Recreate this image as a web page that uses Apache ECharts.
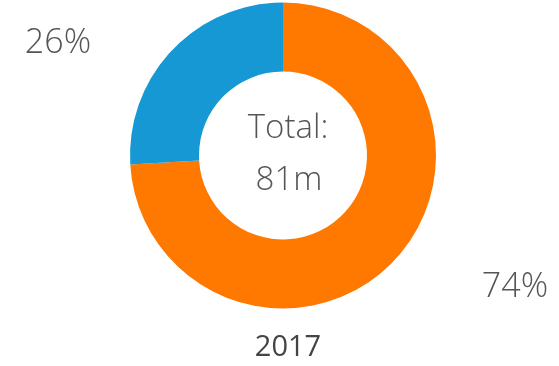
<!DOCTYPE html>
<html>
<head>
<meta charset="utf-8">
<style>
  html, body { margin: 0; padding: 0; background: #fff; }
  #chart { width: 559px; height: 366px; }
</style>
<script src="https://cdn.jsdelivr.net/npm/echarts@6/dist/echarts.min.js"></script>
</head>
<body>
<div id="chart"></div>
<script>
// Segment names and values in millions
var categories = ['Segment A', 'Segment B'];
var values = [60, 21];
var colors = ['#ff7800', '#1598d3'];
var yearLabel = '2017';

var total = values.reduce(function (a, b) { return a + b; }, 0);
var FONT = '"Open Sans", "Noto Sans", sans-serif';

// Where each percentage label sits, relative to the chart box
var labelSpots = [
  { x: 515, y: 287 },
  { x: 58, y: 43 }
];

var chart = echarts.init(document.getElementById('chart'), null, { renderer: 'canvas' });

chart.setOption({
  animation: false,
  series: [{
    type: 'pie',
    center: [283, 155.5],
    radius: [84, 153],
    startAngle: 90,
    clockwise: true,
    avoidLabelOverlap: false,
    silent: true,
    label: {
      show: true,
      position: 'outside',
      fontFamily: FONT,
      fontWeight: 300,
      fontSize: 34,
      color: '#555',
      formatter: function (p) { return Math.round(p.percent) + '%'; }
    },
    labelLine: { show: false },
    labelLayout: function (params) {
      var s = labelSpots[params.dataIndex];
      return { x: s.x, y: s.y, align: 'center', verticalAlign: 'middle' };
    },
    data: categories.map(function (name, i) {
      return { name: name, value: values[i], itemStyle: { color: colors[i] } };
    })
  }],
  graphic: [
    {
      type: 'text',
      style: {
        text: 'Total:',
        x: 288, y: 129,
        align: 'center', verticalAlign: 'middle',
        font: '300 33px ' + FONT,
        fill: '#555'
      }
    },
    {
      type: 'text',
      style: {
        text: total + 'm',
        x: 289, y: 181,
        align: 'center', verticalAlign: 'middle',
        font: '300 33px ' + FONT,
        fill: '#555'
      }
    },
    {
      type: 'text',
      style: {
        text: yearLabel,
        x: 288, y: 348,
        align: 'center', verticalAlign: 'middle',
        font: '400 29px ' + FONT,
        fill: '#444'
      }
    }
  ]
});
</script>
</body>
</html>
